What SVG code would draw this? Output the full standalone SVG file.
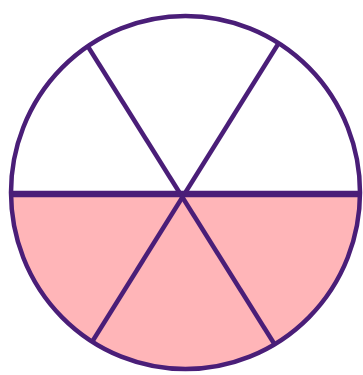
<svg xmlns="http://www.w3.org/2000/svg" width="363" height="375" viewBox="0 0 363 375">
  <style>
    .ln { stroke: #4a1e78; fill: none; stroke-linecap: butt; }
  </style>
  <defs>
    <clipPath id="circ">
      <ellipse cx="185.5" cy="192.5" rx="174.5" ry="176.5"/>
    </clipPath>
  </defs>
  <rect width="363" height="375" fill="#ffffff"/>
  <g id="shaded-half">
    <rect x="0" y="194" width="363" height="181" fill="#ffb5b8" clip-path="url(#circ)"/>
  </g>
  <g id="dividers">
    <g clip-path="url(#circ)">
      <line class="ln" x1="87" y1="45" x2="275" y2="345" stroke-width="4.5"/>
      <line class="ln" x1="280" y1="41" x2="92" y2="342" stroke-width="4.5"/>
    </g>
    <line class="ln" x1="11" y1="194" x2="361" y2="194" stroke-width="6.5"/>
  </g>
  <g id="circle">
    <ellipse class="ln" cx="185.5" cy="192.5" rx="174.5" ry="176.5" stroke-width="4.5"/>
  </g>
</svg>
